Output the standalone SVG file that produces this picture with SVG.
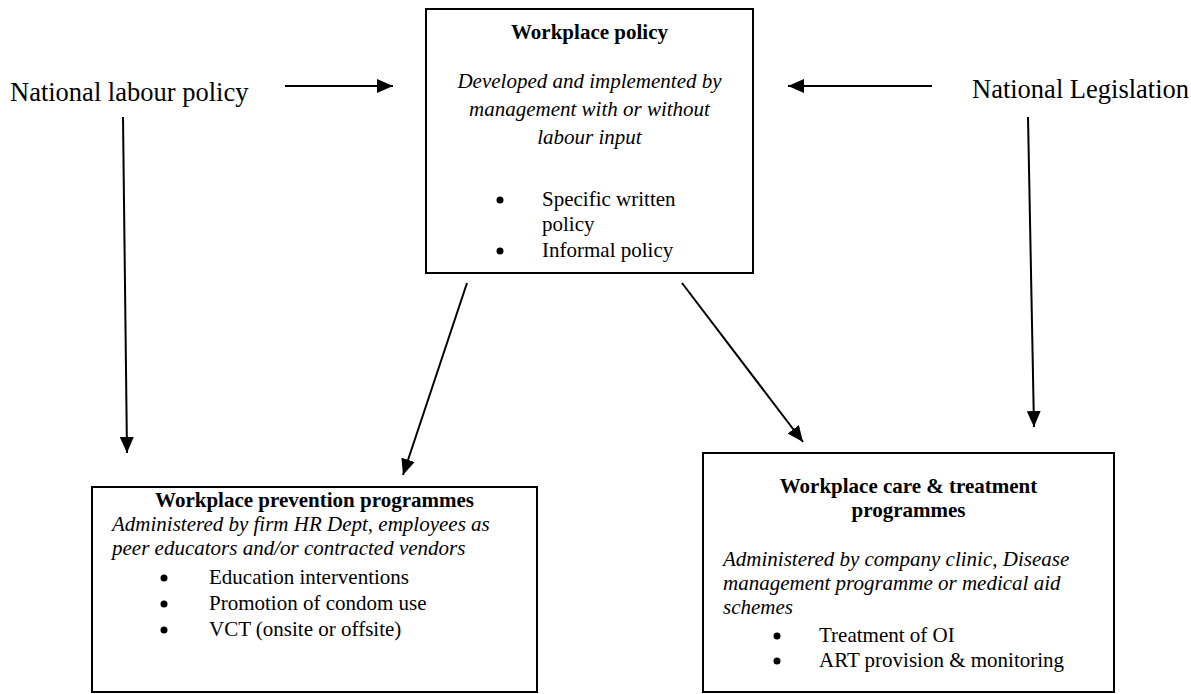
<svg xmlns="http://www.w3.org/2000/svg" width="1191" height="694" viewBox="0 0 1191 694">
<style>
text{font-family:"Liberation Serif","Times New Roman",serif;fill:#000}
.lbl{font-size:26.5px}
.t{font-size:21px;font-weight:bold;text-anchor:middle}
.i{font-size:21px;font-style:italic}
.ic{font-size:21px;font-style:italic;text-anchor:middle}
.r{font-size:21px}
.box{fill:#fff;stroke:#000;stroke-width:2}
</style>
<defs>
<marker id="ah" viewBox="0 0 16 14" refX="16" refY="7" markerWidth="16" markerHeight="14" markerUnits="userSpaceOnUse" orient="auto">
<path d="M0,0 L16,7 L0,14 z" fill="#000"/>
</marker>
</defs>
<rect width="1191" height="694" fill="#fff"/>
<g id="connectors" stroke="#000" stroke-width="2" fill="none">
<line x1="285" y1="86" x2="393" y2="86" marker-end="url(#ah)"/>
<line x1="932" y1="86" x2="788" y2="86" marker-end="url(#ah)"/>
<line x1="123" y1="117" x2="127" y2="453" marker-end="url(#ah)"/>
<line x1="1028" y1="117" x2="1034" y2="427" marker-end="url(#ah)"/>
<line x1="467" y1="283" x2="403" y2="475" marker-end="url(#ah)"/>
<line x1="682" y1="283" x2="803" y2="442" marker-end="url(#ah)"/>
</g>
<g id="national-labour-policy">
<text class="lbl" x="10" y="101">National labour policy</text>
</g>
<g id="national-legislation">
<text class="lbl" x="972" y="98">National Legislation</text>
</g>
<g id="workplace-policy">
<rect class="box" x="426" y="9" width="327" height="264"/>
<text class="t" x="589.5" y="39">Workplace policy</text>
<text class="ic" x="589.5" y="88">Developed and implemented by</text>
<text class="ic" x="589.5" y="116">management with or without</text>
<text class="ic" x="589.5" y="144">labour input</text>
<circle cx="500" cy="200" r="3.5"/>
<text class="r" x="542" y="206">Specific written</text>
<text class="r" x="542" y="231">policy</text>
<circle cx="500" cy="251" r="3.5"/>
<text class="r" x="542" y="257">Informal policy</text>
</g>
<g id="workplace-prevention">
<rect class="box" x="92" y="487" width="445" height="205"/>
<text class="t" x="314.5" y="507">Workplace prevention programmes</text>
<text class="i" x="112" y="531">Administered by firm HR Dept, employees as</text>
<text class="i" x="112" y="555">peer educators and/or contracted vendors</text>
<circle cx="164" cy="578" r="3.5"/>
<text class="r" x="209" y="584">Education interventions</text>
<circle cx="164" cy="604" r="3.5"/>
<text class="r" x="209" y="610">Promotion of condom use</text>
<circle cx="164" cy="630" r="3.5"/>
<text class="r" x="209" y="636">VCT (onsite or offsite)</text>
</g>
<g id="workplace-care">
<rect class="box" x="703" y="453" width="411" height="239"/>
<text class="t" x="908.5" y="493">Workplace care &amp; treatment</text>
<text class="t" x="908.5" y="517">programmes</text>
<text class="i" x="723" y="566">Administered by company clinic, Disease</text>
<text class="i" x="723" y="590">management programme or medical aid</text>
<text class="i" x="723" y="614">schemes</text>
<circle cx="777" cy="636" r="3.5"/>
<text class="r" x="819" y="642">Treatment of OI</text>
<circle cx="777" cy="661" r="3.5"/>
<text class="r" x="819" y="667">ART provision &amp; monitoring</text>
</g>
</svg>
